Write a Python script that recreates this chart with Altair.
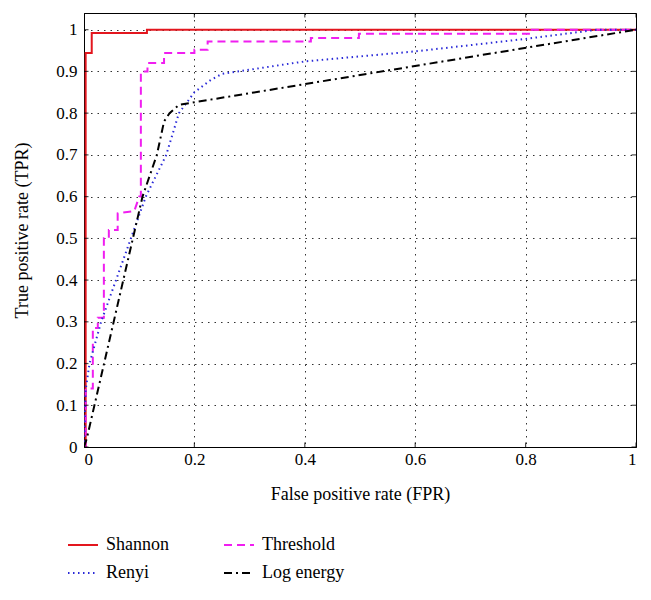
import altair as alt
import pandas as pd

series_names = ["Shannon", "Renyi", "Threshold", "Log energy"]
series_colors = ["#e3161e", "#2a2ad8", "#f01ef0", "#000000"]
series_dashes = [[1, 0], [1.5, 3.5], [8, 5], [8, 4, 2, 4]]

shannon_fpr = [0, 0.003, 0.003, 0.014, 0.014, 0.114, 0.114, 1.0]
shannon_tpr = [0, 0, 0.944, 0.944, 0.992, 0.992, 1.0, 1.0]

threshold_fpr = [0, 0.003, 0.003, 0.016, 0.016, 0.025, 0.025, 0.036, 0.036, 0.045, 0.045,
                 0.061, 0.061, 0.091, 0.1, 0.103, 0.103, 0.115, 0.115, 0.145, 0.145,
                 0.2, 0.2, 0.224, 0.224, 0.411, 0.411, 0.498, 0.498, 0.806, 0.806, 1.0]
threshold_tpr = [0, 0, 0.14, 0.14, 0.285, 0.285, 0.31, 0.31, 0.50, 0.50, 0.52,
                 0.52, 0.56, 0.565, 0.6, 0.6, 0.90, 0.90, 0.92, 0.92, 0.944,
                 0.944, 0.952, 0.952, 0.972, 0.972, 0.98, 0.98, 0.99, 0.99, 1.0, 1.0]

renyi_fpr = [0, 0.003, 0.01, 0.031, 0.058, 0.085, 0.112, 0.149, 0.172, 0.2, 0.23, 0.25,
             0.4, 0.6, 0.8, 0.93, 1.0]
renyi_tpr = [0, 0.137, 0.2, 0.3, 0.4, 0.5, 0.6, 0.7, 0.8, 0.85, 0.88, 0.894,
             0.924, 0.948, 0.978, 1.0, 1.0]

log_fpr = [0, 0.005, 0.106, 0.132, 0.145, 0.155, 0.172, 1.0]
log_tpr = [0, 0.02, 0.6, 0.7, 0.78, 0.80, 0.82, 1.0]

y_ticks = [0, 0.1, 0.2, 0.3, 0.4, 0.5, 0.6, 0.7, 0.8, 0.9, 1.0]
x_ticks = [0, 0.2, 0.4, 0.6, 0.8, 1.0]

W, H = 552, 434

rows = []
for name, xs, ys in [("Shannon", shannon_fpr, shannon_tpr),
                     ("Threshold", threshold_fpr, threshold_tpr),
                     ("Renyi", renyi_fpr, renyi_tpr),
                     ("Log energy", log_fpr, log_tpr)]:
    for i, (x, y) in enumerate(zip(xs, ys)):
        rows.append({"series": name, "fpr": x, "tpr": y, "i": i})
df = pd.DataFrame(rows)
xt = pd.DataFrame({"fpr": x_ticks})
yt = pd.DataFrame({"tpr": y_ticks})

FONT = "Liberation Serif"

legend_kw = dict(title=None, orient="none", legendX=-17, legendY=516,
                 columns=2, symbolType="stroke", symbolSize=900,
                 symbolStrokeWidth=2, labelFont=FONT, labelFontSize=18,
                 labelColor="#000000", columnPadding=51, rowPadding=3,
                 labelOffset=7)

xscale = alt.Scale(domain=[0, 1], nice=False)
yscale = alt.Scale(domain=[0, 1.04], nice=False)

lines = alt.Chart(df).mark_line(strokeWidth=2, clip=True).encode(
    x=alt.X("fpr:Q", scale=xscale,
            axis=alt.Axis(values=x_ticks, format="~g", title="False positive rate (FPR)",
                          grid=True, gridDash=[1.5, 5], gridColor="#000000", gridOpacity=0.8,
                          ticks=False, labelPadding=4, titlePadding=18,
                          domainColor="#000000",
                          labelFont=FONT, labelFontSize=17, labelColor="#000000",
                          titleFont=FONT, titleFontSize=18, titleFontWeight="normal",
                          titleColor="#000000")),
    y=alt.Y("tpr:Q", scale=yscale,
            axis=alt.Axis(values=y_ticks, format="~g", title="True positive rate (TPR)",
                          grid=True, gridDash=[1.5, 5], gridColor="#000000", gridOpacity=0.8,
                          ticks=False, labelPadding=7, titlePadding=24,
                          domainColor="#000000",
                          labelFont=FONT, labelFontSize=17, labelColor="#000000",
                          titleFont=FONT, titleFontSize=18, titleFontWeight="normal",
                          titleColor="#000000")),
    color=alt.Color("series:N",
                    scale=alt.Scale(domain=series_names, range=series_colors),
                    legend=alt.Legend(**legend_kw)),
    strokeDash=alt.StrokeDash("series:N",
                              scale=alt.Scale(domain=series_names, range=series_dashes),
                              legend=alt.Legend(**legend_kw)),
    order=alt.Order("i:Q"),
    detail="series:N",
)

tick_style = dict(size=9, thickness=1.2, color="#000000", clip=True)
top_ticks = alt.Chart(xt).mark_tick(**tick_style).encode(
    x=alt.X("fpr:Q", scale=xscale), y=alt.value(0))
bottom_ticks = alt.Chart(xt).mark_tick(**tick_style).encode(
    x=alt.X("fpr:Q", scale=xscale), y=alt.value(H))
right_ticks = alt.Chart(yt).mark_tick(**tick_style).encode(
    y=alt.Y("tpr:Q", scale=yscale), x=alt.value(W))
left_ticks = alt.Chart(yt).mark_tick(**tick_style).encode(
    y=alt.Y("tpr:Q", scale=yscale), x=alt.value(0))

chart = alt.layer(lines, top_ticks, bottom_ticks, right_ticks, left_ticks).properties(
    width=W, height=H, background="white"
).configure(
    font=FONT
).configure_view(
    stroke="#000000", strokeWidth=1
)

chart.save("out.html", embed_options={"renderer": "svg", "actions": False})
